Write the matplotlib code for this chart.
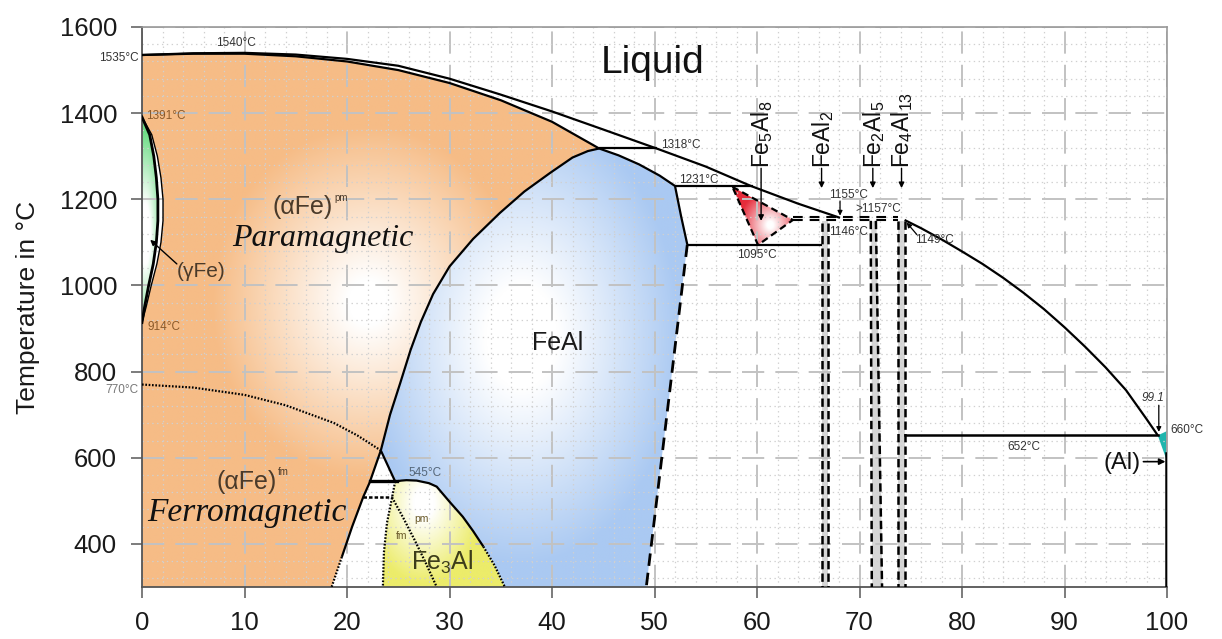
import numpy as np
import matplotlib
matplotlib.use("Agg")
import matplotlib.pyplot as plt
from matplotlib.patches import Polygon
from matplotlib.ticker import MultipleLocator
from matplotlib.colors import to_rgb

plt.rcParams['font.family'] = ['Liberation Sans', 'DejaVu Sans']
plt.rcParams['mathtext.fontset'] = 'custom'
plt.rcParams['mathtext.rm'] = 'Liberation Sans'
plt.rcParams['mathtext.it'] = 'Liberation Sans:italic'
plt.rcParams['lines.scale_dashes'] = False

# ---------------- data ----------------
x_ticks = [0, 10, 20, 30, 40, 50, 60, 70, 80, 90, 100]
y_ticks = [400, 600, 800, 1000, 1200, 1400, 1600]

liq_fe_x = [0, 5, 10, 15, 20, 25, 30, 35, 40, 45, 50.2, 55, 59.4, 64, 68.1]
liq_fe_T = [1535, 1539, 1540, 1536, 1526, 1510, 1480, 1443, 1404, 1362, 1318, 1276, 1231, 1190, 1157]

sol_fe_x = [0, 5, 10, 15, 20, 25, 30, 35, 40, 44.6]
sol_fe_T = [1535, 1538, 1538, 1532, 1520, 1500, 1470, 1430, 1380, 1318]

feal_sol_x = [44.6, 46.5, 48.5, 50.5, 52.0]
feal_sol_T = [1318, 1302, 1281, 1255, 1231]

feal_right_x = [52.0, 52.6, 53.2]
feal_right_T = [1231, 1160, 1095]

feal_dash_x = [53.2, 49.2]
feal_dash_T = [1095, 300]

a2b2_x = [44.6, 43.5, 42.0, 39.8, 37.3, 34.9, 32.3, 30.0, 28.4, 27.2, 26.2, 25.2, 24.2, 23.3]
a2b2_T = [1318, 1312, 1297, 1261, 1218, 1168, 1108, 1044, 980, 915, 850, 774, 700, 617]

solvus_x = [23.3, 22.2, 21.6, 20.5, 19.5]
solvus_T = [617, 542, 510, 440, 370]
solvus_dot_x = [19.5, 18.5]
solvus_dot_T = [370, 300]

tri_right_x = [23.3, 24.7]
tri_right_T = [617, 545]
line545_x = [22.2, 24.9]
line545_T = [545, 545]

dome_x = [24.7, 25.3, 25.8, 26.8, 28.0, 28.75, 30.0, 31.3, 32.3, 33.3]
dome_T = [545, 547, 548, 547, 541, 533, 498, 463, 430, 394]
dome_dot_x = [33.3, 34.4, 35.4]
dome_dot_T = [394, 350, 300]

fe3al_left_x = [24.7, 24.4, 23.9, 23.6, 23.5]
fe3al_left_T = [545, 508, 449, 380, 300]

curie_x = [0, 5, 10, 14, 18.7, 21, 23.3]
curie_T = [770, 763, 746, 722, 681, 652, 617]
curie2_x = [24.4, 25.5, 26.6, 27.7, 28.75]
curie2_T = [508, 460, 409, 355, 300]
curie_h_x = [21.6, 24.4]
curie_h_T = [508, 508]

gam_T = [1391, 1350, 1300, 1250, 1200, 1150, 1100, 1050, 1000, 950, 914]
gam_in_x = [0, 0.75, 1.15, 1.4, 1.55, 1.55, 1.4, 1.1, 0.65, 0.25, 0]
gam_out_x = [0, 0.95, 1.5, 1.85, 2.05, 2.05, 1.85, 1.45, 0.9, 0.4, 0]

line1318_x = [44.6, 50.2]
line1231_x = [52.0, 59.6]
line1095_x = [53.2, 66.3]
line652_x = [74.4, 99.1]

eps_x = [57.6, 63.5, 60.1]
eps_T = [1229, 1152, 1094]

feal2_x = [66.3, 66.9]
fe2al5_left_x = [71.1, 71.2]
fe2al5_right_x = [71.6, 72.2]
fe4al13_x = [73.8, 74.4]
compound_top_T = [1150, 300]

liq_al_x = [74.4, 76, 78, 80, 82, 84, 86, 88, 90, 92, 94, 96, 98, 99.1]
liq_al_T = [1152, 1133, 1107, 1079, 1050, 1018, 983, 945, 903, 858, 810, 757, 690, 652]

al_x = [99.1, 100.0, 100.0]
al_T = [652, 662, 592]
al_solvus_x = [99.9, 99.9]
al_solvus_T = [610, 300]

compound_labels = ['Fe$_5$Al$_8$', 'FeAl$_2$', 'Fe$_2$Al$_5$', 'Fe$_4$Al$_{13}$']
compound_x = [60.4, 66.3, 71.3, 74.1]
compound_tip_T = [1150, 1226, 1226, 1226]

temp_labels = ['1540°C', '1391°C', '914°C', '1318°C', '1231°C', '1095°C',
               '1155°C', '>1157°C', '1146°C', '1149°C', '545°C', '652°C']
temp_label_x = [9.2, 0.35, 0.5, 52.6, 54.3, 60.0, 68.9, 71.8, 68.9, 77.3, 27.6, 86.0]
temp_label_T = [1562, 1393, 903, 1326, 1245, 1071, 1210, 1177, 1124, 1106, 565, 625]

# ---------------- figure ----------------
fig = plt.figure(figsize=(12.22, 6.39), dpi=100)
ax = fig.add_axes([142 / 1222, 1 - 587 / 639, 1025 / 1222, 560 / 639])


def gradient_fill(xs, ys, color, center, scale, lo, hi, power=1.0, zorder=0.2):
    xs = np.asarray(xs, float)
    ys = np.asarray(ys, float)
    poly = Polygon(np.column_stack([xs, ys]), closed=True, facecolor='none',
                   edgecolor='none', zorder=zorder)
    ax.add_patch(poly)
    x0, x1, y0, y1 = xs.min(), xs.max(), ys.min(), ys.max()
    gx = np.linspace(x0, x1, 400)
    gy = np.linspace(y0, y1, 400)
    X, Y = np.meshgrid(gx, gy)
    d = np.hypot((X - center[0]) / scale[0], (Y - center[1]) / scale[1])
    t = np.clip((d - lo) / (hi - lo), 0, 1) ** power
    c = np.array(to_rgb(color))
    img = 1 - t[..., None] * (1 - c)
    im = ax.imshow(img, extent=[x0, x1, y0, y1], origin='lower', aspect='auto',
                   zorder=zorder, interpolation='bilinear')
    im.set_clip_path(poly)


# alpha-Fe (orange)
orange_x = (sol_fe_x + a2b2_x[1:] + solvus_x[1:] + solvus_dot_x[1:] + [0, 0]
            + gam_out_x[::-1] + [0])
orange_T = (sol_fe_T + a2b2_T[1:] + solvus_T[1:] + solvus_dot_T[1:] + [300, 914]
            + gam_T[::-1] + [1535])
gradient_fill(orange_x, orange_T, '#f6bc86', (22, 960), (16, 430), 0.12, 0.95)

# gamma-Fe (green)
green_x = gam_in_x + [0]
green_T = gam_T + [1391]
gradient_fill(green_x, green_T, '#6ddc85', (0.3, 1120), (1.5, 200), 0.35, 1.2)

# FeAl (blue)
blue_x = (feal_sol_x + feal_right_x[1:] + feal_dash_x[1:] + dome_dot_x[::-1][:-1]
          + dome_x[::-1] + tri_right_x[::-1][1:] + a2b2_x[::-1][1:])
blue_T = (feal_sol_T + feal_right_T[1:] + feal_dash_T[1:] + dome_dot_T[::-1][:-1]
          + dome_T[::-1] + tri_right_T[::-1][1:] + a2b2_T[::-1][1:])
gradient_fill(blue_x, blue_T, '#aac9f2', (37, 880), (14, 480), 0.25, 1.1)

# Fe3Al (yellow)
yellow_x = dome_x + dome_dot_x[1:] + fe3al_left_x[::-1]
yellow_T = dome_T + dome_dot_T[1:] + fe3al_left_T[::-1]
gradient_fill(yellow_x, yellow_T, '#ecec6a', (27.5, 495), (5, 170), 0.2, 1.1)

# Fe5Al8 (red)
gradient_fill(eps_x, eps_T, '#e62c3b', (61.3, 1140), (3.0, 80), 0.1, 1.0)

# (Al) teal
ax.add_patch(Polygon(np.column_stack([al_x, al_T]), closed=True,
                     facecolor='#1fb5ad', edgecolor='none', zorder=0.3))

# compound grey bands
band_T = compound_top_T
ax.fill_betweenx(band_T, [feal2_x[0]] * 2, [feal2_x[1]] * 2, color='#d6d6d6', zorder=0.3, lw=0)
ax.fill_betweenx(band_T, fe2al5_left_x, fe2al5_right_x, color='#d6d6d6', zorder=0.3, lw=0)
ax.fill_betweenx(band_T, [fe4al13_x[0]] * 2, [fe4al13_x[1]] * 2, color='#d6d6d6', zorder=0.3, lw=0)

# ---------------- lines ----------------
K = dict(color='k', lw=1.6, zorder=3, solid_capstyle='butt', solid_joinstyle='round')
DOT = dict(color='k', lw=1.6, dashes=(1.2, 1.2), zorder=3)
ax.plot(liq_fe_x, liq_fe_T, **K)
ax.plot(sol_fe_x, sol_fe_T, **K)
ax.plot(feal_sol_x, feal_sol_T, **K)
ax.plot(feal_right_x, feal_right_T, **K)
ax.plot(feal_dash_x, feal_dash_T, color='k', lw=2.0, dashes=(9, 5), zorder=3)
ax.plot(a2b2_x, a2b2_T, **K)
ax.plot(solvus_x, solvus_T, **K)
ax.plot(solvus_dot_x, solvus_dot_T, **DOT)
ax.plot(tri_right_x, tri_right_T, **K)
ax.plot(line545_x, line545_T, color='k', lw=2.4, zorder=3)
ax.plot(dome_x, dome_T, **K)
ax.plot(dome_dot_x, dome_dot_T, **DOT)
ax.plot(fe3al_left_x, fe3al_left_T, **DOT)
ax.plot(curie_x, curie_T, **DOT)
ax.plot(curie2_x, curie2_T, **DOT)
ax.plot(curie_h_x, curie_h_T, color='k', lw=1.8, dashes=(2.5, 1.5), zorder=3)
ax.plot(gam_in_x, gam_T, color='k', lw=2.0, zorder=3)
ax.plot(gam_out_x, gam_T, color='k', lw=1.0, zorder=3)

ax.plot(line1318_x, [1318, 1318], **K)
ax.plot(line1231_x, [1231, 1231], **K)
ax.plot(line1095_x, [1095, 1095], **K)
ax.plot(line652_x, [652, 652], color='k', lw=1.8, zorder=3)
ax.plot(liq_al_x, liq_al_T, **K)
ax.plot(al_solvus_x, al_solvus_T, color='k', lw=1.8, zorder=3)

# epsilon (Fe5Al8) triangle, dashed border
ax.plot(eps_x + [eps_x[0]], eps_T + [eps_T[0]], color='k', lw=1.6, dashes=(5, 3), zorder=3)

# "= =" marks around 1150-1160
ax.plot([63.5, 73.8], [1160, 1160], color='k', lw=1.5, dashes=(7, 5), zorder=3)
ax.plot([63.5, 73.8], [1151, 1151], color='k', lw=1.5, dashes=(7, 5), zorder=3)

# compound vertical double dashed lines
D = dict(color='k', lw=1.8, dashes=(6, 3), zorder=3)
for xx in feal2_x:
    ax.plot([xx, xx], [1146, 300], **D)
ax.plot(fe2al5_left_x, [1150, 300], **D)
ax.plot(fe2al5_right_x, [1150, 300], **D)
for xx in fe4al13_x:
    ax.plot([xx, xx], [1150, 300], **D)

# ---------------- grid ----------------
ax.set_xlim(0, 100)
ax.set_ylim(300, 1600)
ax.xaxis.set_major_locator(plt.FixedLocator(x_ticks))
ax.yaxis.set_major_locator(plt.FixedLocator(y_ticks))
ax.xaxis.set_minor_locator(MultipleLocator(2))
ax.yaxis.set_minor_locator(MultipleLocator(40))
ax.set_axisbelow('line')
ax.grid(which='major', color='#c2c2c2', lw=1.4, dashes=(16, 8))
ax.grid(which='minor', color='#d0d0d0', lw=0.9, dashes=(1, 2.5))
ax.tick_params(which='minor', length=0)
ax.tick_params(axis='both', which='major', direction='out', length=8, width=1.2,
               colors='#666', labelcolor='#1a1a1a', labelsize=18.5)
ax.tick_params(axis='x', pad=9)
ax.tick_params(axis='y', pad=10)
for s in ['left', 'bottom']:
    ax.spines[s].set_color('#555')
    ax.spines[s].set_linewidth(1.3)
for s in ['top', 'right']:
    ax.spines[s].set_color('#999')
    ax.spines[s].set_linewidth(1.2)
ax.set_ylabel('Temperature in °C', fontsize=19, labelpad=14, color='#1a1a1a')

# ---------------- texts ----------------
ax.text(49.8, 1516, 'Liquid', fontsize=28, ha='center', va='center', color='#111', zorder=5)

tl_colors = ['#333', '#8b5a2b', '#8b5a2b', '#333', '#333', '#333',
             '#333', '#333', '#333', '#333', '#55677a', '#333']
for lab, xx, tt, cc in zip(temp_labels, temp_label_x, temp_label_T, tl_colors):
    ha = 'left' if lab in ('1391°C', '914°C') else 'center'
    ax.text(xx, tt, lab, fontsize=8.5, ha=ha, va='center', color=cc, zorder=5)
ax.text(-0.3, 1527, '1535°C', fontsize=8.5, ha='right', va='center', color='#333', clip_on=False)
ax.text(-0.3, 758, '770°C', fontsize=8.5, ha='right', va='center', color='#777', clip_on=False)
ax.text(100.3, 665, '660°C', fontsize=8.5, ha='left', va='center', color='#333', clip_on=False)

# arrows for temperatures
AP = dict(arrowstyle='-|>', color='k', lw=0.9, mutation_scale=7, shrinkA=0, shrinkB=0)
ax.annotate('', xy=(68.1, 1162), xytext=(68.1, 1196), arrowprops=AP, zorder=5)
ax.annotate('', xy=(74.6, 1146), xytext=(75.6, 1118), arrowprops=AP, zorder=5)
ax.annotate('', xy=(99.2, 660), xytext=(99.2, 722), arrowprops=AP, zorder=5)
ax.text(98.6, 739, '99.1', fontsize=8.5, style='italic', ha='center', va='center', color='#333')

# phase labels
ax.text(95.6, 588, '(Al)', fontsize=17, ha='center', va='center', color='#111')
ax.annotate('', xy=(99.85, 591), xytext=(97.7, 591),
            arrowprops=dict(arrowstyle='-|>', color='k', lw=1.2, mutation_scale=9,
                            shrinkA=0, shrinkB=0))

ax.text(5.8, 1032, '(γFe)', fontsize=15, ha='center', va='center', color='#4a3a2a', zorder=5)
ax.annotate('', xy=(0.8, 1106), xytext=(3.4, 1050),
            arrowprops=dict(arrowstyle='-|>', color='k', lw=1.0, mutation_scale=8,
                            shrinkA=0, shrinkB=0), zorder=5)

ax.text(15.7, 1182, '(αFe)', fontsize=18, ha='center', va='center', color='#4a3a2a', zorder=5)
ax.text(18.75, 1203, 'pm', fontsize=7, ha='left', va='center', color='#4a3a2a', zorder=5)
ax.text(17.6, 1110, 'Paramagnetic', fontsize=23, style='italic', ha='center', va='center',
        family='Liberation Serif', color='#111', zorder=5)

ax.text(10.2, 544, '(αFe)', fontsize=18, ha='center', va='center', color='#4a3a2a', zorder=5)
ax.text(13.3, 566, 'fm', fontsize=7, ha='left', va='center', color='#4a3a2a', zorder=5)
ax.text(10.2, 472, 'Ferromagnetic', fontsize=24, style='italic', ha='center', va='center',
        family='Liberation Serif', color='#111', zorder=5)

ax.text(40.5, 866, 'FeAl', fontsize=18, ha='center', va='center', color='#1a1a1a', zorder=5)
ax.text(29.3, 356, 'Fe$_{3}$Al', fontsize=18, ha='center', va='center', color='#3d3d1a', zorder=5)
ax.text(27.3, 458, 'pm', fontsize=7.5, ha='center', va='center', color='#6b5b2b', zorder=5)
ax.text(25.3, 418, 'fm', fontsize=7.5, ha='center', va='center', color='#6b5b2b', zorder=5)

for lab, xx, tip in zip(compound_labels, compound_x, compound_tip_T):
    ax.text(xx + 0.1, 1272, lab, fontsize=16.5, rotation=90, ha='center', va='bottom',
            color='#111', zorder=5)
    ax.annotate('', xy=(xx, tip), xytext=(xx, 1272),
                arrowprops=dict(arrowstyle='-|>', color='k', lw=1.0, mutation_scale=8,
                                shrinkA=0, shrinkB=0), zorder=5)

fig.savefig('out.png', dpi=100)
